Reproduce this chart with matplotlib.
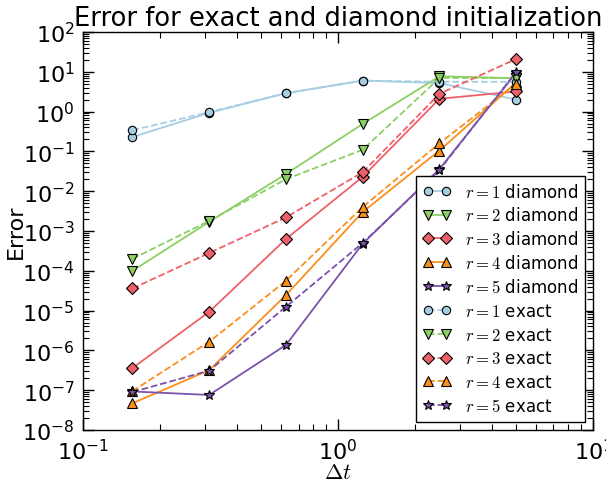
import matplotlib
matplotlib.use('Agg')
import matplotlib.pyplot as plt
import matplotlib.ticker as mticker
import numpy as np

plt.rcParams['mathtext.fontset'] = 'cm'
plt.rcParams['xtick.direction'] = 'in'
plt.rcParams['ytick.direction'] = 'in'
plt.rcParams['xtick.top'] = True
plt.rcParams['ytick.right'] = True

# data
dt = [0.15625, 0.3125, 0.625, 1.25, 2.5, 5.0]

diamond = {
    1: [0.23, 0.93, 2.9, 6.0, 5.2, 2.0],
    2: [1.0e-4, 1.7e-3, 0.027, 0.49, 7.7, 6.9],
    3: [3.6e-7, 9.3e-6, 6.3e-4, 0.023, 2.1, 3.2],
    4: [4.7e-8, 3.2e-7, 2.45e-5, 3.0e-3, 0.105, 5.4],
    5: [9.3e-8, 7.6e-8, 1.37e-6, 4.8e-4, 0.036, 9.5],
}
exact = {
    1: [0.34, 0.97, 2.9, 6.0, 5.6, 5.6],
    2: [2.0e-4, 1.8e-3, 0.020, 0.11, 7.0, 7.0],
    3: [3.6e-5, 2.8e-4, 2.2e-3, 0.030, 2.8, 21.0],
    4: [9.5e-8, 1.65e-6, 5.6e-5, 4.0e-3, 0.16, 5.0],
    5: [9.0e-8, 3.1e-7, 1.25e-5, 5.0e-4, 0.034, 10.0],
}

colors = {1: '#a6cee3', 2: '#8ccf63', 3: '#f0606a', 4: '#fb8f1c', 5: '#7b52ab'}
markers = {1: 'o', 2: 'v', 3: 'D', 4: '^', 5: '*'}
msize = {1: 6, 2: 6.5, 3: 6.5, 4: 6.5, 5: 7}

fig = plt.figure(figsize=(6.06, 4.85), dpi=100)
ax = fig.add_axes([0.137, 0.1113, 0.8415, 0.8207])

for r in range(1, 6):
    ax.loglog(dt, diamond[r], '-', color=colors[r], marker=markers[r],
              markerfacecolor=colors[r], markeredgecolor='black', mew=0.8,
              ms=msize[r], lw=1.3, label=r'$r=%d$ diamond' % r)
for r in range(1, 6):
    ax.loglog(dt, exact[r], '--', color=colors[r], marker=markers[r],
              markerfacecolor=colors[r], markeredgecolor='black', mew=0.8,
              ms=msize[r], lw=1.3, label=r'$r=%d$ exact' % r)

ax.set_xlim(0.1, 10)
ax.set_ylim(1e-8, 1e2)
ax.yaxis.set_major_locator(mticker.LogLocator(base=10, numticks=20))
ax.yaxis.set_minor_locator(mticker.LogLocator(base=10, subs=np.arange(2, 10), numticks=20))
ax.tick_params(which='major', length=8, width=1, labelsize=16, pad=6)
ax.tick_params(which='minor', length=4, width=0.8)
for s in ax.spines.values():
    s.set_linewidth(1.0)

ax.set_title('Error for exact and diamond initialization', fontsize=18.5, pad=5)
ax.set_xlabel(r'$\Delta t$', fontsize=16, labelpad=-1)
ax.set_ylabel('Error', fontsize=16, labelpad=-3)

leg = ax.legend(loc='lower right', fontsize=12, numpoints=2, fancybox=False,
                framealpha=1, borderaxespad=0.5, handlelength=1.7,
                labelspacing=0.35)
leg.get_frame().set_edgecolor('black')

fig.savefig('out.png', dpi=100)
